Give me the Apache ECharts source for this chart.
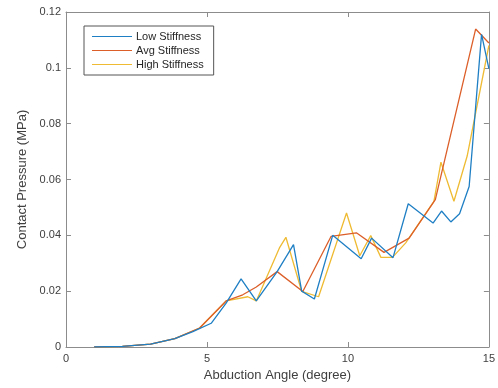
<!DOCTYPE html>
<html>
<head>
<meta charset="utf-8">
<script src="https://cdn.jsdelivr.net/npm/echarts@6/dist/echarts.min.js"></script>
<style>
html,body{margin:0;padding:0;background:#fff;}
#chart{width:498px;height:388px;}
</style>
</head>
<body>
<div id="chart"></div>
<script>
var seriesNames = ['Low Stiffness', 'Avg Stiffness', 'High Stiffness'];
var xTicks = [0, 5, 10, 15];
var yTicks = [0, 0.02, 0.04, 0.06, 0.08, 0.1, 0.12];

var xLow = [1, 2, 3, 3.86, 4.5, 5.15, 5.68, 6.21, 6.75, 7.49, 8.07, 8.36, 8.81, 9.46, 10.47, 10.84, 11.6, 12.14, 13.02, 13.32, 13.65, 13.96, 14.3, 14.74, 15];
var yLow = [0, 0.0002, 0.001, 0.003, 0.0055, 0.0085, 0.0157, 0.0244, 0.0165, 0.027, 0.0367, 0.020, 0.0172, 0.0400, 0.0316, 0.039, 0.032, 0.0513, 0.0444, 0.0487, 0.0448, 0.0477, 0.0575, 0.112, 0.0997];

var xAvg = [1, 2, 3, 3.86, 4.74, 5.68, 6.27, 6.75, 7.49, 8.4, 9.4, 10.3, 11.28, 12.17, 13.1, 14.53, 15];
var yAvg = [0, 0.0002, 0.001, 0.003, 0.0068, 0.0165, 0.0187, 0.0215, 0.027, 0.0199, 0.0396, 0.0409, 0.0339, 0.039, 0.0528, 0.1139, 0.1089];

var xHigh = [1, 2, 3, 3.86, 4.74, 5.68, 6.45, 6.75, 7.57, 7.8, 8.36, 8.96, 9.95, 10.42, 10.81, 11.17, 11.58, 12.05, 13.05, 13.3, 13.76, 14.23, 15];
var yHigh = [0, 0.0002, 0.001, 0.003, 0.0068, 0.0165, 0.018, 0.0165, 0.0355, 0.0393, 0.0199, 0.018, 0.048, 0.0327, 0.0399, 0.0321, 0.0321, 0.0373, 0.0522, 0.0662, 0.0522, 0.0684, 0.108];

function pairs(xs, ys){ return xs.map(function(x,i){ return [x, ys[i]]; }); }

var colors = ['#1f7fc4', '#dc5f2a', '#eebb33'];
var font = 'Liberation Sans, Arial, sans-serif';
var axisColor = '#8c8c8c';
var labelColor = '#404040';

var chart = echarts.init(document.getElementById('chart'), null, {renderer:'canvas'});

function xAx(pos, showLabel){
  return {
    type:'value', position:pos, min:0, max:15, interval:5,
    axisLine:{show:true, onZero:false, lineStyle:{color:axisColor, width:1}},
    axisTick:{show:true, inside:true, length:5, lineStyle:{color:axisColor}},
    axisLabel:{show:showLabel, color:labelColor, fontSize:11, fontFamily:font, margin:6,
      formatter:function(v){ return xTicks.indexOf(v)>=0 ? String(v) : ''; }},
    splitLine:{show:false},
    name: showLabel ? 'Abduction Angle (degree)' : '',
    nameLocation:'middle', nameGap:21,
    nameTextStyle:{color:labelColor, fontSize:13, fontFamily:font}
  };
}
function yAx(pos, showLabel){
  return {
    type:'value', position:pos, min:0, max:0.12, interval:0.02,
    axisLine:{show:true, onZero:false, lineStyle:{color:axisColor, width:1}},
    axisTick:{show:true, inside:true, length:5, lineStyle:{color:axisColor}},
    axisLabel:{show:showLabel, color:labelColor, fontSize:11, fontFamily:font, margin:5,
      formatter:function(v){
        for (var i=0;i<yTicks.length;i++){ if (Math.abs(yTicks[i]-v)<1e-9) return String(yTicks[i]); }
        return '';
      }},
    splitLine:{show:false},
    name: showLabel ? 'Contact Pressure (MPa)' : '',
    nameLocation:'middle', nameGap:36, nameRotate:90,
    nameTextStyle:{color:labelColor, fontSize:13, fontFamily:font}
  };
}

var data = [pairs(xLow,yLow), pairs(xAvg,yAvg), pairs(xHigh,yHigh)];

chart.setOption({
  backgroundColor:'#fff',
  animation:false,
  color:colors,
  grid:{left:66, right:8, top:12, bottom:41, containLabel:false},
  legend:{
    show:true, orient:'vertical', left:84, top:26,
    data:seriesNames,
    icon:'rect', itemWidth:40, itemHeight:1.2, itemGap:3,
    textStyle:{color:'#262626', fontSize:11, fontFamily:font, padding:[0,0,0,-1]},
    borderColor:'#555', borderWidth:1, backgroundColor:'#fff',
    padding:[5,10,5,8]
  },
  xAxis:[xAx('bottom', true), xAx('top', false)],
  yAxis:[yAx('left', true), yAx('right', false)],
  series: seriesNames.map(function(n,i){
    return {
      name:n, type:'line', xAxisIndex:0, yAxisIndex:0,
      data:data[i], showSymbol:false, symbol:'none',
      lineStyle:{width:1.3, color:colors[i]}, itemStyle:{color:colors[i]},
      z: 3 - i
    };
  })
});
</script>
</body>
</html>
